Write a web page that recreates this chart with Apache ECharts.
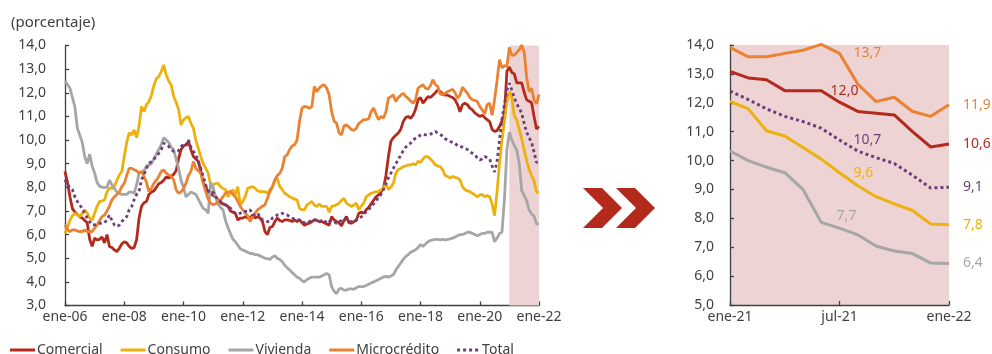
<!DOCTYPE html>
<html>
<head>
<meta charset="utf-8">
<script src="https://cdn.jsdelivr.net/npm/echarts@6/dist/echarts.min.js"></script>
<style>
  html, body { margin: 0; padding: 0; background: #ffffff; }
  #chart { width: 992px; height: 354px; }
</style>
</head>
<body>
<div id="chart"></div>
<script>
// Monthly rates, ene-06 .. ene-22 (percent)
const meses = ['ene', 'feb', 'mar', 'abr', 'may', 'jun', 'jul', 'ago', 'sep', 'oct', 'nov', 'dic'];
const fechas = [];
for (let y = 6; y <= 22; y++) {
  for (let i = 0; i < 12; i++) {
    if (y === 22 && i > 0) break;
    fechas.push(meses[i] + '-' + String(y).padStart(2, '0'));
  }
}

const comercial = [
  8.67, 8.2, 7.6, 7.1, 6.95, 6.85, 6.75, 6.7, 6.6, 6.5, 5.8, 5.5,
  5.85, 5.78, 5.8, 5.9, 5.65, 6.0, 5.5, 5.45, 5.35, 5.28, 5.42, 5.6,
  5.7, 5.65, 5.5, 5.42, 5.45, 5.78, 6.7, 7.2, 7.35, 7.4, 7.7, 7.8,
  7.85, 8.0, 8.15, 8.2, 8.3, 8.45, 8.4, 8.45, 8.55, 8.7, 9.2, 9.6,
  9.75, 9.8, 9.94, 9.6, 9.3, 9.2, 9.1, 8.7, 8.2, 8.03, 7.8, 7.75,
  7.65, 7.6, 7.47, 7.35, 7.3, 7.25, 7.2, 7.0, 6.95, 6.9, 6.62, 6.7,
  6.7, 6.76, 6.7, 6.7, 6.83, 6.7, 6.76, 6.7, 6.55, 6.13, 6.0, 6.3,
  6.34, 6.55, 6.7, 6.6, 6.55, 6.62, 6.62, 6.6, 6.55, 6.62, 6.55, 6.62,
  6.5, 6.4, 6.45, 6.48, 6.55, 6.62, 6.6, 6.55, 6.55, 6.5, 6.45, 6.4,
  6.76, 6.62, 6.55, 6.5, 6.37, 6.6, 6.76, 6.5, 6.48, 6.55, 6.6, 6.9,
  6.95, 6.9, 7.05, 7.15, 7.3, 7.45, 7.6, 7.68, 7.8, 7.95, 8.5, 9.3,
  9.95, 10.1, 10.2, 10.3, 10.45, 10.78, 10.95, 11.0, 10.92, 11.05, 11.3, 11.7,
  11.8, 11.56, 11.7, 11.84, 11.8, 11.9, 12.0, 12.12, 12.05, 11.95, 11.9, 11.9,
  11.84, 11.8, 11.7, 11.5, 11.2, 11.5, 11.56, 11.5, 11.35, 11.28, 11.15, 11.07,
  11.0, 11.05, 10.95, 10.86, 10.78, 10.45, 10.36, 10.4, 10.57, 10.8, 11.1, 12.9,
  13.09, 12.86, 12.80, 12.42, 12.42, 12.42, 12.02, 11.70, 11.64, 11.58, 11.0, 10.47,
  10.57
];

const consumo = [
  6.06, 6.3, 6.6, 6.8, 6.9, 6.83, 6.76, 6.9, 7.05, 6.9, 6.7, 6.62,
  6.9, 7.2, 7.4, 7.42, 7.47, 7.8, 7.96, 7.96, 8.03, 8.3, 8.52, 8.67,
  9.3, 9.9, 10.3, 10.22, 10.43, 10.1, 10.6, 11.42, 11.2, 11.5, 11.63, 11.9,
  12.3, 12.6, 12.69, 12.9, 13.18, 12.75, 12.5, 12.34, 11.85, 11.6, 11.3, 10.64,
  10.85, 10.95, 11.0, 10.71, 10.5, 10.0, 9.65, 9.3, 9.0, 8.8, 8.6, 8.1,
  8.1, 8.17, 8.17, 8.03, 7.95, 7.9, 7.6, 7.8, 7.9, 7.68, 8.03, 7.25,
  7.4, 7.6, 7.96, 8.0, 8.03, 7.96, 7.85, 7.82, 7.82, 7.82, 7.75, 7.9,
  8.03, 8.3, 8.39, 8.03, 7.9, 7.75, 7.68, 7.6, 7.55, 7.5, 7.47, 7.1,
  7.05, 7.05, 7.26, 7.33, 7.4, 7.25, 7.19, 7.3, 7.19, 7.19, 7.19, 6.95,
  7.19, 7.22, 7.26, 7.33, 7.45, 7.54, 7.33, 7.26, 7.19, 7.25, 7.33, 7.05,
  7.2, 7.33, 7.6, 7.68, 7.75, 7.78, 7.82, 7.82, 7.9, 7.96, 8.17, 7.9,
  8.0, 8.17, 8.6, 8.75, 8.8, 8.88, 8.9, 8.95, 8.95, 9.0, 8.95, 9.1,
  9.05, 9.2, 9.3, 9.3, 9.2, 9.09, 8.95, 8.9, 8.88, 8.74, 8.5, 8.46,
  8.39, 8.46, 8.42, 8.39, 8.32, 8.03, 7.9, 7.85, 7.82, 7.75, 7.68, 7.6,
  7.68, 7.7, 7.6, 7.65, 7.6, 7.3, 6.8, 7.8, 9.0, 10.0, 10.8, 11.6,
  12.05, 11.79, 11.03, 10.85, 10.45, 10.05, 9.58, 9.13, 8.75, 8.50, 8.27, 7.80,
  7.78
];

const vivienda = [
  12.5, 12.35, 12.2, 11.8, 11.4, 10.5, 10.2, 9.9, 9.3, 9.0, 9.4, 8.9,
  8.6, 8.2, 8.05, 8.0, 8.0, 8.0, 8.3, 8.1, 7.95, 7.8, 7.75, 7.7,
  7.7, 7.7, 7.8, 7.8, 7.75, 8.1, 8.6, 8.65, 8.7, 8.9, 8.95, 9.0,
  9.2, 9.4, 9.6, 9.8, 10.1, 10.0, 9.9, 9.7, 9.6, 9.2, 8.8, 8.3,
  8.0, 7.6, 7.7, 7.8, 7.75, 7.7, 7.5, 7.3, 7.1, 7.05, 6.9, 8.2,
  8.0, 7.6, 7.3, 7.15, 7.05, 6.6, 6.3, 6.05, 5.8, 5.7, 5.55, 5.4,
  5.35, 5.3, 5.25, 5.2, 5.2, 5.15, 5.15, 5.1, 5.05, 5.0, 4.98, 4.95,
  5.05, 5.1, 5.0, 4.95, 4.85, 4.7, 4.6, 4.5, 4.4, 4.3, 4.2, 4.15,
  4.05, 4.0, 4.1, 4.15, 4.2, 4.2, 4.2, 4.2, 4.25, 4.3, 4.35, 4.3,
  3.8, 3.6, 3.5, 3.7, 3.72, 3.65, 3.65, 3.7, 3.7, 3.68, 3.75, 3.8,
  3.8, 3.8, 3.85, 3.9, 3.95, 4.0, 4.05, 4.1, 4.15, 4.2, 4.23, 4.2,
  4.25, 4.3, 4.5, 4.65, 4.8, 4.95, 5.07, 5.15, 5.25, 5.3, 5.36, 5.45,
  5.57, 5.5, 5.6, 5.7, 5.75, 5.78, 5.8, 5.8, 5.78, 5.8, 5.78, 5.8,
  5.82, 5.85, 5.9, 5.95, 6.0, 6.0, 6.05, 6.1, 6.1, 6.05, 6.0, 5.95,
  6.0, 6.05, 6.05, 6.1, 6.1, 6.1, 5.7, 5.85, 6.05, 6.1, 7.5, 9.6,
  10.33, 10.0, 9.77, 9.58, 9.0, 7.86, 7.66, 7.43, 7.04, 6.87, 6.78, 6.45,
  6.44
];

const microcredito = [
  6.41, 6.2, 6.13, 6.2, 6.2, 6.15, 6.13, 6.13, 6.2, 6.13, 6.13, 6.13,
  6.27, 6.4, 6.6, 6.76, 6.83, 7.0, 7.2, 7.47, 7.6, 7.7, 7.8, 8.03,
  8.17, 8.5, 8.8, 8.8, 8.74, 8.7, 8.6, 8.67, 8.46, 8.2, 7.82, 7.96,
  8.17, 8.3, 8.46, 8.67, 8.74, 8.6, 8.53, 8.46, 8.32, 7.9, 7.75, 7.8,
  7.95, 8.17, 8.5, 8.67, 9.09, 8.8, 8.7, 8.6, 8.17, 7.82, 7.5, 7.33,
  7.26, 7.3, 7.4, 7.47, 7.6, 7.75, 7.8, 7.82, 7.7, 7.6, 7.4, 7.19,
  7.05, 6.9, 6.8, 6.55, 6.76, 6.9, 7.05, 7.12, 7.2, 7.26, 7.54, 7.82,
  8.0, 8.32, 8.5, 8.6, 8.8, 9.3, 9.37, 9.6, 9.75, 9.8, 10.0, 10.8,
  11.35, 11.42, 11.4, 11.35, 11.42, 12.27, 12.05, 12.2, 12.3, 12.34, 12.2, 11.91,
  11.2, 10.8, 10.71, 10.3, 10.22, 10.6, 10.64, 10.55, 10.45, 10.4, 10.5, 10.7,
  10.78, 10.86, 10.86, 10.9, 11.2, 11.35, 11.1, 10.86, 11.0, 10.93, 11.2, 11.77,
  11.84, 11.91, 11.63, 11.8, 11.9, 11.98, 11.85, 11.77, 11.65, 11.56, 11.7, 12.2,
  12.27, 12.34, 12.2, 12.15, 12.3, 12.55, 12.35, 12.27, 11.95, 11.91, 11.98, 12.05,
  12.1, 12.15, 12.0, 11.77, 11.9, 12.24, 12.1, 11.98, 11.8, 11.7, 11.68, 11.63,
  11.42, 11.28, 11.1, 11.5, 11.56, 11.05, 11.7, 12.5, 13.4, 13.05, 13.15, 13.1,
  13.92, 13.59, 13.59, 13.71, 13.82, 14.02, 13.71, 12.65, 12.04, 12.19, 11.70, 11.53,
  11.93
];

const total = [
  8.32, 8.1, 8.0, 7.9, 7.6, 7.4, 7.25, 7.1, 6.9, 6.7, 6.55, 6.41,
  6.41, 6.45, 6.48, 6.48, 6.5, 6.62, 6.83, 6.6, 6.41, 6.34, 6.4, 6.55,
  6.65, 6.76, 7.05, 7.19, 7.47, 7.7, 7.82, 8.32, 8.53, 8.8, 9.02, 9.09,
  9.2, 9.3, 9.44, 9.6, 9.87, 9.8, 9.73, 9.6, 9.52, 9.52, 9.55, 9.73,
  9.8, 9.75, 10.0, 9.7, 9.52, 9.37, 9.1, 8.8, 8.46, 8.1, 7.85, 7.75,
  7.8, 7.6, 7.5, 7.4, 7.33, 7.26, 7.2, 7.12, 6.98, 6.9, 6.9, 6.9,
  6.98, 6.98, 6.98, 7.05, 6.83, 6.83, 6.9, 6.76, 6.62, 6.6, 6.55, 6.55,
  6.7, 6.76, 6.83, 6.83, 6.9, 6.85, 6.83, 6.76, 6.7, 6.65, 6.62, 6.62,
  6.55, 6.5, 6.48, 6.55, 6.6, 6.62, 6.62, 6.55, 6.6, 6.62, 6.48, 6.55,
  6.6, 6.55, 6.48, 6.55, 6.6, 6.69, 6.62, 6.55, 6.55, 6.55, 6.62, 6.69,
  6.75, 6.83, 6.98, 7.05, 7.2, 7.3, 7.4, 7.6, 7.7, 7.9, 8.17, 8.4,
  8.6, 8.8, 9.0, 9.16, 9.37, 9.55, 9.7, 9.8, 9.87, 10.0, 10.08, 10.15,
  10.2, 10.25, 10.22, 10.22, 10.25, 10.29, 10.36, 10.3, 10.25, 10.15, 10.05, 10.0,
  9.94, 9.9, 9.87, 9.75, 9.73, 9.7, 9.65, 9.6, 9.5, 9.44, 9.37, 9.25,
  9.16, 9.2, 9.3, 9.25, 9.2, 8.9, 8.65, 9.1, 10.0, 10.9, 11.5, 12.1,
  12.40, 12.11, 11.79, 11.53, 11.35, 11.12, 10.71, 10.33, 10.10, 9.90, 9.49, 9.05,
  9.08
];

// Zoomed panel: last 13 months
const nZoom = 13;
const fechasZoom = fechas.slice(-nZoom);

const colores = {
  Comercial: '#B3291C',
  Consumo: '#EDB10F',
  Vivienda: '#A6A6A6',
  'Microcrédito': '#EB8231',
  Total: '#6B3E7C'
};
const texto = '#404040';
const banda = '#EDD3D3';
const fmt = v => v.toFixed(1).replace('.', ',');

// label placement for the jul-21 value of each series in the zoomed panel
const seriesDef = [
  { name: 'Comercial', data: comercial, mid: { position: [5, -4], align: 'center', verticalAlign: 'bottom' } },
  { name: 'Consumo', data: consumo, mid: { position: 'right', distance: 14 } },
  { name: 'Vivienda', data: vivienda, mid: { position: [7, -5], align: 'center', verticalAlign: 'bottom' } },
  { name: 'Microcrédito', data: microcredito, mid: { position: 'right', distance: 14 } },
  { name: 'Total', data: total, mid: { position: 'right', distance: 14 } }
];

function lineStyleFor(name, w) {
  const s = { color: colores[name], width: w };
  if (name === 'Total') { s.type = [3, 3]; s.cap = 'butt'; }
  return s;
}

const series = [];
// shaded period on the long panel
series.push({
  type: 'line', xAxisIndex: 0, yAxisIndex: 0, data: [], silent: true,
  markArea: { silent: true, itemStyle: { color: banda }, data: [[{ xAxis: 'ene-21' }, { xAxis: 'ene-22' }]] }
});
seriesDef.forEach(d => {
  series.push({
    name: d.name, type: 'line', xAxisIndex: 0, yAxisIndex: 0,
    data: d.data, symbol: 'none', showSymbol: false,
    color: colores[d.name],
    lineStyle: lineStyleFor(d.name, 2.8),
    z: 3
  });
});
seriesDef.forEach(d => {
  const zoomVals = d.data.slice(-nZoom);
  const items = zoomVals.map((v, i) => {
    if (i === 6) return { value: v, label: Object.assign({ show: true }, d.mid) };
    if (i === nZoom - 1) return { value: v, label: { show: true, position: 'right', distance: 14 } };
    return v;
  });
  series.push({
    name: d.name, type: 'line', xAxisIndex: 1, yAxisIndex: 1,
    data: items, symbol: 'circle', symbolSize: 0, showSymbol: true, showAllSymbol: true, clip: false,
    color: colores[d.name],
    lineStyle: lineStyleFor(d.name, 3),
    label: {
      show: false, color: colores[d.name], fontSize: 14,
      fontFamily: 'Noto Sans', formatter: p => fmt(p.value)
    },
    labelLayout: { hideOverlap: false },
    z: 3
  });
});

const dotIcon = 'path://M0,0h3v3h-3z M6,0h3v3h-3z M12,0h3v3h-3z M18,0h3v3h-3z';

const axisCommon = {
  axisLine: { show: true, onZero: false, lineStyle: { color: texto, width: 1.3 } },
  axisTick: { show: true, inside: true, length: 4, lineStyle: { color: texto, width: 1.3 } },
  splitLine: { show: false }
};

const chart = echarts.init(document.getElementById('chart'), null, { renderer: 'canvas' });
chart.setOption({
  animation: false,
  backgroundColor: '#ffffff',
  textStyle: { fontFamily: 'Noto Sans', color: texto },
  title: {
    text: '(porcentaje)', left: 6, top: 10,
    textStyle: { fontSize: 15, fontWeight: 'normal', color: texto, fontFamily: 'Noto Sans' }
  },
  legend: {
    left: 10, top: 343, padding: 0, itemWidth: 25, itemHeight: 3, itemGap: 18,
    data: [
      { name: 'Comercial', icon: 'rect' },
      { name: 'Consumo', icon: 'rect' },
      { name: 'Vivienda', icon: 'rect' },
      { name: 'Microcrédito', icon: 'rect' },
      { name: 'Total', icon: dotIcon }
    ],
    textStyle: { fontSize: 14, color: texto, fontFamily: 'Noto Sans', padding: [0, 0, 0, -3] }
  },
  grid: [
    { left: 65, top: 45.5, width: 474, height: 260 },
    { left: 730, top: 45, width: 219, height: 260, show: true, backgroundColor: banda, borderWidth: 0 }
  ],
  xAxis: [
    Object.assign({}, axisCommon, {
      type: 'category', gridIndex: 0, data: fechas, boundaryGap: false,
      axisTick: Object.assign({}, axisCommon.axisTick, { interval: 23 }),
      axisLabel: { interval: 23, fontSize: 14, color: texto, margin: 5 }
    }),
    Object.assign({}, axisCommon, {
      type: 'category', gridIndex: 1, data: fechasZoom, boundaryGap: false,
      axisTick: Object.assign({}, axisCommon.axisTick, { interval: 5 }),
      axisLabel: { interval: 5, fontSize: 14, color: texto, margin: 5 }
    })
  ],
  yAxis: [
    Object.assign({}, axisCommon, {
      type: 'value', gridIndex: 0, min: 3, max: 14, interval: 1,
      axisLabel: { formatter: fmt, fontSize: 14, color: texto, margin: 19 }
    }),
    Object.assign({}, axisCommon, {
      type: 'value', gridIndex: 1, min: 5, max: 14, interval: 1,
      axisLabel: { formatter: fmt, fontSize: 14, color: texto, margin: 16 }
    })
  ],
  graphic: [
    { type: 'polygon', shape: { points: [[583, 188], [602, 188], [622, 208], [602, 228], [583, 228], [603, 208]] }, style: { fill: '#B3291C' } },
    { type: 'polygon', shape: { points: [[616, 188], [635, 188], [655, 208], [635, 228], [616, 228], [636, 208]] }, style: { fill: '#B3291C' } }
  ],
  series: series
});
</script>
</body>
</html>
